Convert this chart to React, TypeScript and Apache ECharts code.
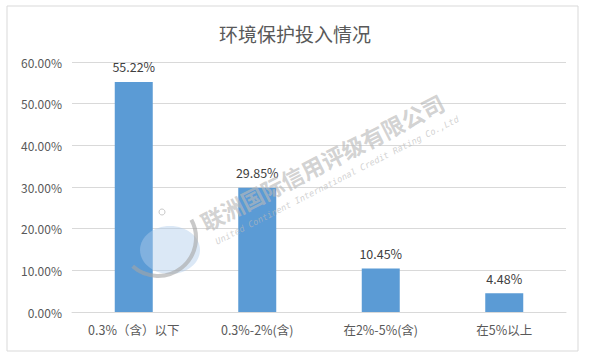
import React, { useEffect, useRef } from "react";
import * as echarts from "echarts";

const title = "环境保护投入情况";
const categories = ["0.3%（含）以下", "0.3%-2%(含)", "在2%-5%(含)", "在5%以上"];
const values = [55.22, 29.85, 10.45, 4.48];
const yTicks = { min: 0, max: 60, interval: 10 };
const watermarkCn = "联洲国际信用评级有限公司";
const watermarkEn = "United Continent International Credit Rating Co.,Ltd";

export default function App() {
  const ref = useRef<HTMLDivElement>(null);
  useEffect(() => {
    if (!ref.current) return;
    const chart = echarts.init(ref.current, null, { renderer: "svg" });
    const rot = (27 * Math.PI) / 180;
    chart.setOption({
      animation: false,
      backgroundColor: "#ffffff",
      title: {
        text: title,
        left: "center",
        top: 19,
        textStyle: {
          fontFamily: "Noto Sans CJK SC",
          fontSize: 19,
          fontWeight: "normal",
          color: "#595959",
        },
      },
      grid: { left: 72, right: 24, top: 62, bottom: 46, containLabel: false },
      xAxis: {
        type: "category",
        data: categories,
        axisLine: { lineStyle: { color: "#d9d9d9" } },
        axisTick: { show: false },
        axisLabel: {
          color: "#595959",
          fontSize: 12.5,
          fontFamily: "Noto Sans CJK SC",
          margin: 11,
        },
      },
      yAxis: {
        type: "value",
        min: yTicks.min,
        max: yTicks.max,
        interval: yTicks.interval,
        axisLine: { show: false },
        axisTick: { show: false },
        splitLine: { lineStyle: { color: "#d9d9d9" } },
        axisLabel: {
          color: "#595959",
          fontSize: 12,
          fontFamily: "Noto Sans CJK SC",
          margin: 10,
          formatter: (v: number) => v.toFixed(2) + "%",
        },
      },
      series: [
        {
          type: "bar",
          data: values,
          barWidth: 38,
          itemStyle: { color: "#5b9bd5" },
          label: {
            show: true,
            position: "top",
            distance: 9,
            color: "#404040",
            fontSize: 12.5,
            fontFamily: "Noto Sans CJK SC",
            formatter: (p: any) => p.value.toFixed(2) + "%",
          },
        },
      ],
      graphic: [
        {
          type: "rect",
          shape: { x: 7, y: 6, width: 571, height: 345 },
          style: { fill: "none", stroke: "#d9d9d9", lineWidth: 1 },
          silent: true,
          z: 0,
        },
        {
          type: "ellipse",
          shape: { cx: 170, cy: 250, rx: 30, ry: 24 },
          style: { fill: "rgba(175,205,235,0.45)" },
          silent: true,
          z: 100,
        },
        {
          type: "arc",
          shape: { cx: 158, cy: 238, r: 38, startAngle: -0.5, endAngle: 2.3 },
          style: { stroke: "rgba(165,165,165,0.6)", lineWidth: 4, fill: "none" },
          silent: true,
          z: 100,
        },
        {
          type: "circle",
          shape: { cx: 162, cy: 212, r: 3 },
          style: { stroke: "rgba(165,165,165,0.6)", lineWidth: 1, fill: "none" },
          silent: true,
          z: 100,
        },
        {
          type: "text",
          x: 207,
          y: 233,
          rotation: rot,
          style: {
            text: watermarkCn,
            fontSize: 22.5,
            fontWeight: "bold",
            fontFamily: "Noto Sans CJK SC",
            fill: "rgba(185,185,185,0.65)",
            textAlign: "left",
            textVerticalAlign: "bottom",
          },
          silent: true,
          z: 100,
        },
        {
          type: "text",
          x: 218,
          y: 246,
          rotation: rot,
          style: {
            text: watermarkEn,
            fontSize: 8.7,
            fontFamily: "DejaVu Sans Mono",
            fontStyle: "italic",
            fill: "rgba(185,185,185,0.65)",
            textAlign: "left",
            textVerticalAlign: "bottom",
          },
          silent: true,
          z: 100,
        },
      ],
    });
    return () => chart.dispose();
  }, []);
  return (
    <div
      ref={ref}
      style={{ position: "fixed", left: 0, top: 0, width: 590, height: 358 }}
    />
  );
}
